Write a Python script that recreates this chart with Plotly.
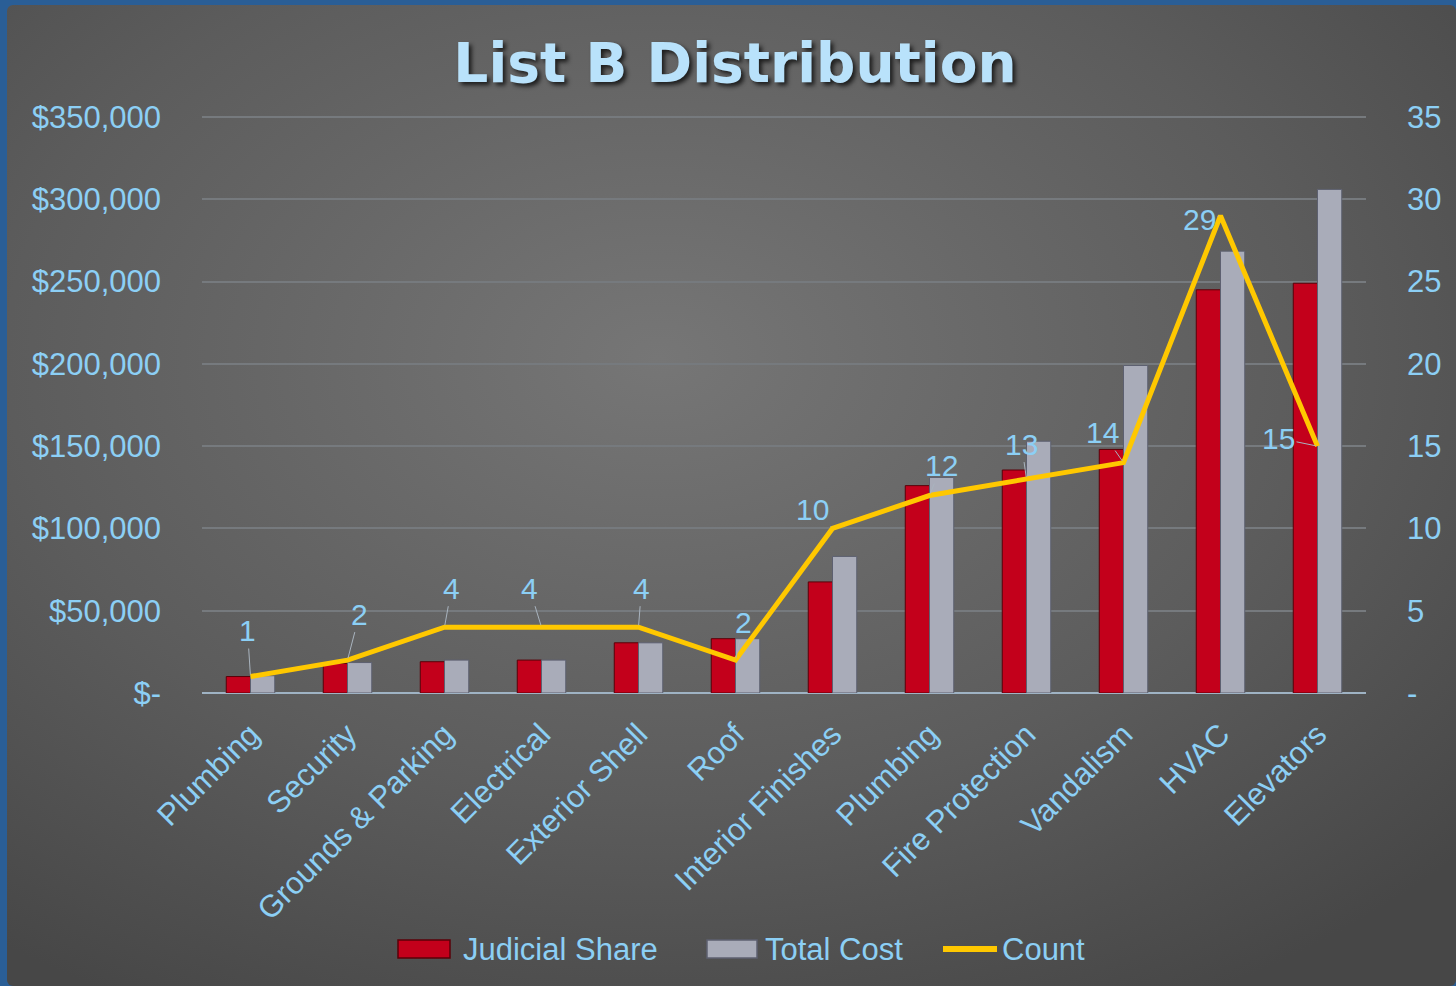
import base64
import plotly.graph_objects as go

categories = ["Plumbing", "Security", "Grounds & Parking", "Electrical", "Exterior Shell", "Roof",
              "Interior Finishes", "Plumbing", "Fire Protection", "Vandalism", "HVAC", "Elevators"]
judicial_share = [10000, 18000, 19000, 20000, 30500, 33000, 67500, 126000, 135500, 148000, 245000, 249000]
total_cost = [10500, 18500, 20000, 20000, 30500, 33000, 83000, 131000, 153000, 199000, 268500, 306000]
count = [1, 2, 4, 4, 4, 2, 10, 12, 13, 14, 29, 15]

left_tickvals = [0, 50000, 100000, 150000, 200000, 250000, 300000, 350000]
left_ticktext = ["$-", "$50,000", "$100,000", "$150,000", "$200,000", "$250,000", "$300,000", "$350,000"]
right_tickvals = [0, 5, 10, 15, 20, 25, 30, 35]
right_ticktext = ["-", "5", "10", "15", "20", "25", "30", "35"]

series_names = ["Judicial Share", "Total Cost", "Count"]

# label offsets (pixels) for count data labels
label_dx = [-3, 12, 7, -12, 3, 8, -20, 12, -5, -21, -21, -39]
label_dy = [-46, -46, -39, -39, -39, -38, -19, -30, -35, -30, 4, -8]

W, H = 1456, 986
ML, MR, MT, MB = 202, 90, 113, 293
PW, PH = W - ML - MR, H - MT - MB
EPS = PH / 576.0  # keep 350,000 at y=117 while leaving room for its gridline

LBLUE = "#8ccff5"
FONT = "Liberation Sans"
RED, RED_EDGE = "#c3001b", "#5a0008"
GRAY, GRAY_EDGE = "#a9acb9", "#5d6070"
YEL = "#ffc800"


def pxx(x):
    return (x - ML) / PW


def pxy(y):
    return (H - MB - y) / PH


xs = list(range(len(categories)))

fig = go.Figure()
fig.add_trace(go.Bar(
    x=xs, y=judicial_share, name=series_names[0],
    marker=dict(color=RED, line=dict(color=RED_EDGE, width=1)),
))
fig.add_trace(go.Bar(
    x=xs, y=total_cost, name=series_names[1],
    marker=dict(color=GRAY, line=dict(color=GRAY_EDGE, width=1)),
))
fig.add_trace(go.Scatter(
    x=xs, y=count, name=series_names[2], yaxis="y2", mode="lines",
    line=dict(color=YEL, width=5),
))

for i, c in enumerate(count):
    fig.add_annotation(
        x=i, y=c, xref="x", yref="y2", text=str(c), showarrow=True,
        ax=label_dx[i], ay=label_dy[i], arrowhead=0, arrowwidth=1,
        arrowcolor="#a9b4bf", standoff=2,
        font=dict(family=FONT, size=30, color=LBLUE),
    )

# custom legend (swatches + labels)
leg_y0, leg_y1, leg_mid = 940, 958, 949
fig.add_shape(type="rect", xref="paper", yref="paper", x0=pxx(398), x1=pxx(450), y0=pxy(leg_y1), y1=pxy(leg_y0),
              fillcolor=RED, line=dict(color=RED_EDGE, width=1.5))
fig.add_shape(type="rect", xref="paper", yref="paper", x0=pxx(707), x1=pxx(757), y0=pxy(leg_y1), y1=pxy(leg_y0),
              fillcolor=GRAY, line=dict(color=GRAY_EDGE, width=1.5))
fig.add_shape(type="line", xref="paper", yref="paper", x0=pxx(943), x1=pxx(997), y0=pxy(leg_mid), y1=pxy(leg_mid),
              line=dict(color=YEL, width=6))
for name, lx in zip(series_names, [461, 763, 1000]):
    fig.add_annotation(x=pxx(lx), y=pxy(leg_mid), xref="paper", yref="paper", text=name, showarrow=False,
                       xanchor="left", yanchor="middle", font=dict(family=FONT, size=31, color=LBLUE))

svg = (
    '<svg xmlns="http://www.w3.org/2000/svg" width="1449" height="981" viewBox="0 0 1449 981" '
    'preserveAspectRatio="none"><defs><radialGradient id="g" cx="0.45" cy="0.36" r="0.75">'
    '<stop offset="0" stop-color="#767676"/><stop offset="0.6" stop-color="#5c5c5c"/>'
    '<stop offset="1" stop-color="#474747"/></radialGradient></defs>'
    '<rect x="0" y="0" width="1449" height="981" rx="6" ry="6" fill="url(#g)"/></svg>'
)
src = "data:image/svg+xml;base64," + base64.b64encode(svg.encode()).decode()

px0, py0 = 7, 5
fig.add_layout_image(
    source=src, xref="paper", yref="paper",
    x=pxx(px0), y=pxy(py0),
    sizex=(W - px0) / PW, sizey=(H - py0) / PH,
    xanchor="left", yanchor="top", sizing="stretch", layer="below",
)

fig.update_layout(
    width=W, height=H,
    margin=dict(l=ML, r=MR, t=MT, b=MB, pad=0),
    paper_bgcolor="#2a5e96",
    plot_bgcolor="rgba(0,0,0,0)",
    barmode="group", bargap=0.5, bargroupgap=0,
    title=dict(
        text="<b>List B Distribution</b>", x=pxx(735), xref="paper", xanchor="center",
        y=(H - 63) / H, yanchor="middle",
        font=dict(family="DejaVu Sans", size=55, color="#b9e2fb", shadow="3px 3px 4px #1e1e1e"),
    ),
    xaxis=dict(
        tickvals=xs, ticktext=categories, range=[-0.5, len(categories) - 0.5],
        tickangle=-45, tickfont=dict(family=FONT, size=31, color=LBLUE),
        showgrid=False, ticks="", showline=False, zeroline=False,
        ticklabelstandoff=16,
    ),
    yaxis=dict(
        range=[0, 350000 * EPS], tickvals=left_tickvals, ticktext=left_ticktext,
        tickfont=dict(family=FONT, size=31, color=LBLUE),
        showgrid=True, gridcolor="#767a7e", gridwidth=1.5,
        zeroline=True, zerolinecolor="#9fb3c4", zerolinewidth=2,
        ticks="", ticklabelstandoff=40, showline=False,
    ),
    yaxis2=dict(
        range=[0, 35 * EPS], tickvals=right_tickvals, ticktext=right_ticktext, overlaying="y", side="right",
        tickfont=dict(family=FONT, size=31, color=LBLUE),
        showgrid=False, zeroline=False, ticks="", ticklabelstandoff=40, showline=False,
    ),
    showlegend=False,
)

fig.write_html(
    "out.html",
    config={"displayModeBar": False},
    post_script="document.body.style.margin='0';document.body.style.background='#2a5e96';",
)
